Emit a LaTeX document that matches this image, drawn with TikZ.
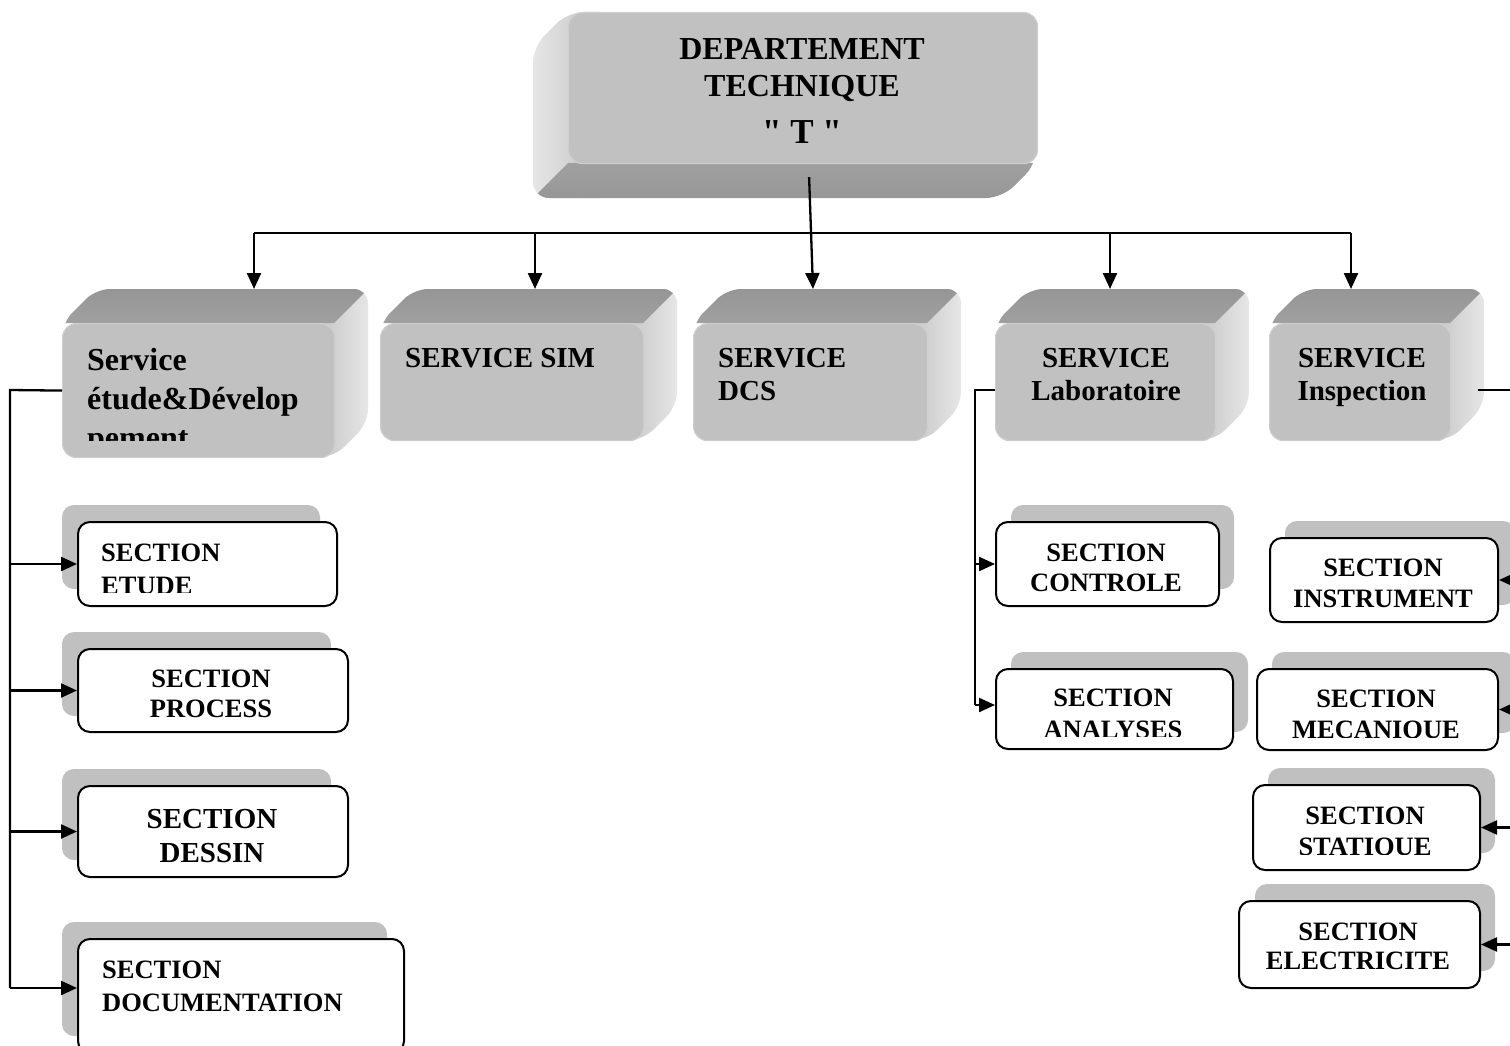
\documentclass[tikz,border=0pt]{standalone}
\usepackage{fontspec}
\setmainfont{Liberation Serif}
\newfontfamily\plainserif{Liberation Serif}
\usetikzlibrary{arrows.meta}

\definecolor{face}{RGB}{193,193,193}
\definecolor{faceRim}{RGB}{206,206,206}
\definecolor{topD}{RGB}{142,142,142}
\definecolor{topL}{RGB}{160,160,160}
\definecolor{sideD}{RGB}{196,196,196}
\definecolor{sideL}{RGB}{234,234,234}
\definecolor{shadowgray}{RGB}{192,192,192}

\tikzset{
  conn/.style={line width=2.3pt},
  arr/.style={conn,-{Triangle[length=16pt,width=14pt]}},
  svcface/.style={fill=face, draw=faceRim, line width=1.2pt, rounded corners=14pt, inner sep=0pt},
  secbox/.style={draw=black, line width=2pt, fill=white, rounded corners=12pt, inner sep=0pt},
  secshadow/.style={fill=shadowgray, rounded corners=12pt},
  txt/.style={inner sep=0pt, font=\bfseries\fontsize{26.5}{31}\selectfont},
  svctxt/.style={inner sep=0pt, font=\bfseries\fontsize{29}{33}\selectfont},
}

% bevelled service block: front face (#2,#3)-(#4,#5), extruded up and to the right
\newcommand\svcbox[5]{%
  \begin{scope}
    \clip[rounded corners=14pt] (#2,#5) -- (#2,#3) -- (#2+34,#3-34) -- (#4+34,#3-34)
      -- (#4+34,#5-34) -- (#4,#5) -- cycle;
    \shade[left color=sideD, right color=sideL] (#4-20,#3-40) rectangle (#4+40,#5+5);
    \shade[top color=topD, bottom color=topL] (#2-10,#3) -- (#4,#3) -- (#4+60,#3-60)
      -- (#2-10,#3-60) -- cycle;
  \end{scope}
  \node[svcface, anchor=north west, minimum width={#4-#2}, minimum height={#5-#3}] (#1) at (#2,#3) {};
  \coordinate (#1-top) at (#2,#3-34);
}

\begin{document}
\begin{tikzpicture}[x=1pt,y=-1pt]
\useasboundingbox (0,0) rectangle (1510,1046);
\clip (0,0) rectangle (1510,1046);

% ---------- head block, extruded down and to the left ----------
\begin{scope}
  \clip[rounded corners=16pt] (568,12) -- (1037,12) -- (1037,163) -- (1002,198)
    -- (533,198) -- (533,47) -- cycle;
  \shade[left color=sideL, right color=sideD] (525,0) rectangle (600,210);
  \shade[top color=topL, bottom color=topD] (568,163) -- (1050,163) -- (1050,230) -- (501,230) -- cycle;
\end{scope}
\node[svcface, anchor=north west, minimum width=469, minimum height=151] (dept) at (568,12) {};
% multi-line nodes: the base anchor sits on the last line
\node[inner sep=0pt, align=center, anchor=base, font=\bfseries\fontsize{32}{37}\selectfont]
  (deptText) at (802,143) {DEPARTEMENT\\TECHNIQUE\\[10pt]{\plainserif\bfseries\fontsize{35}{37}\selectfont" T "}};

% ---------- services ----------
\svcbox{sEtude}{62}{323}{334}{457}
\svcbox{sSim}{380}{323}{643}{440}
\svcbox{sDcs}{693}{323}{927}{440}
\svcbox{sLab}{995}{323}{1215}{440}
\svcbox{sInsp}{1269}{323}{1450}{440}

\begin{scope}
  \clip (60,330) rectangle (340,440);
  \node[inner sep=0pt, align=left, anchor=base west, font=\bfseries\fontsize{32}{39}\selectfont]
    (tEtude) at (87,448) {Service\\étude\&Dévelop\\pement};
\end{scope}
\node[svctxt, anchor=base west] (tSim) at (405,367) {SERVICE SIM};
\node[svctxt, anchor=base west, align=left] (tDcs) at (718,400) {SERVICE\\DCS};
\node[svctxt, anchor=base, align=center] (tLab) at (1106,400) {SERVICE\\Laboratoire};
\node[svctxt, anchor=base, align=center] (tInsp) at (1362,400) {SERVICE\\Inspection};

% ---------- left sections ----------
\fill[secshadow] (62,505) rectangle (320,589);
\node[secbox, anchor=north west, minimum width=259, minimum height=84] (secEtude) at (77,521) {};
\fill[secshadow] (62,632) rectangle (331,716);
\node[secbox, anchor=north west, minimum width=270, minimum height=83] (secProcess) at (77,648) {};
\fill[secshadow] (62,769) rectangle (331,860);
\node[secbox, anchor=north west, minimum width=270, minimum height=91] (secDessin) at (77,785) {};
\fill[secshadow] (62,922) rectangle (387,1036);
\node[secbox, anchor=north west, minimum width=326, minimum height=114] (secDoc) at (77,938) {};

\begin{scope}
  \clip (77,521) rectangle (336,592);
  \node[txt, anchor=base west, align=left, font=\bfseries\fontsize{26.5}{33}\selectfont]
    (tEtudeSec) at (101,594) {SECTION\\ETUDE};
\end{scope}
\node[txt, anchor=base, align=center, font=\bfseries\fontsize{26.5}{30}\selectfont]
  (tProcess) at (211,717) {SECTION\\PROCESS};
\node[txt, anchor=base, align=center, font=\bfseries\fontsize{29}{34}\selectfont]
  (tDessin) at (212,862) {SECTION\\DESSIN};
\node[txt, anchor=base west, align=left, font=\bfseries\fontsize{26.5}{33}\selectfont]
  (tDoc) at (102,1011) {SECTION\\DOCUMENTATION};

% ---------- laboratory sections ----------
\fill[secshadow] (1011,505) rectangle (1234,589);
\node[secbox, anchor=north west, minimum width=223, minimum height=84] (secControle) at (995,521) {};
\fill[secshadow] (1011,652) rectangle (1248,732);
\node[secbox, anchor=north west, minimum width=237, minimum height=80] (secAnalyses) at (995,668) {};

\node[txt, anchor=base, align=center, font=\bfseries\fontsize{26.5}{30}\selectfont]
  (tControle) at (1106,591) {SECTION\\CONTROLE};
\begin{scope}
  \clip (995,668) rectangle (1232,736.5);
  \node[txt, anchor=base, align=center, font=\bfseries\fontsize{26.5}{32}\selectfont]
    (tAnalyses) at (1113,738) {SECTION\\ANALYSES};
\end{scope}

% ---------- inspection sections ----------
\fill[secshadow] (1285,521) rectangle (1515,605);
\node[secbox, anchor=north west, minimum width=228, minimum height=84] (secInstr) at (1269,537) {};
\fill[secshadow] (1272,652) rectangle (1515,733);
\node[secbox, anchor=north west, minimum width=241, minimum height=81] (secMeca) at (1256,668) {};
\fill[secshadow] (1268,768) rectangle (1495,853);
\node[secbox, anchor=north west, minimum width=227, minimum height=85] (secStat) at (1252,784) {};
\fill[secshadow] (1255,884) rectangle (1495,971);
\node[secbox, anchor=north west, minimum width=241, minimum height=87] (secElec) at (1238,900) {};

\node[txt, anchor=base, align=center] (tInstr) at (1383,607) {SECTION\\INSTRUMENT};
\begin{scope}
  \clip (1256,668) rectangle (1497,737);
  \node[txt, anchor=base, align=center] (tMeca) at (1376,738) {SECTION\\MECANIQUE};
\end{scope}
\begin{scope}
  \clip (1252,784) rectangle (1479,854.5);
  \node[txt, anchor=base, align=center] (tStat) at (1365,855) {SECTION\\STATIQUE};
\end{scope}
\node[txt, anchor=base, align=center, font=\bfseries\fontsize{26.5}{29}\selectfont]
  (tElec) at (1358,969) {SECTION\\ELECTRICITE};

% ---------- connectors from the head ----------
\coordinate (busA) at (254,233);
\coordinate (busB) at (535,233);
\coordinate (busD) at (1110,233);
\coordinate (busE) at (1351,233);
\coordinate (dcsIn) at (813,289);
\draw[conn] (busA) -- (busE);
\draw[arr] ([xshift=6pt,yshift=-13pt]dept.south) -- (dcsIn);
\draw[arr] (busA) -- (busA |- sEtude-top);
\draw[arr] (busB) -- (busB |- sSim-top);
\draw[arr] (busD) -- (busD |- sLab-top);
\draw[arr] (busE) -- (busE |- sInsp-top);

% ---------- study & development branch ----------
\coordinate (lTop) at (10,390);
\coordinate (lBot) at (10,988);
\draw[conn] (sEtude.west) -- (lTop) -- (lBot);
\draw[arr] (lTop |- secEtude.west) -- (secEtude.west);
\draw[arr] (lTop |- secProcess.west) -- (secProcess.west);
\draw[arr] (lTop |- secDessin.west) -- (secDessin.west);
\draw[arr] (lBot) -- (lBot -| secDoc.west);

% ---------- laboratory branch ----------
\coordinate (labTop) at (975,390);
\coordinate (labBot) at (975,705);
\draw[conn] (sLab.west |- labTop) -- (labTop) -- (labBot);
\draw[arr] (labTop |- secControle.west) -- (secControle.west);
\draw[arr] (labBot) -- (labBot -| secAnalyses.west);

% ---------- inspection branch ----------
\coordinate (inspOut) at (1478,390);
\coordinate (rTop) at (1540,390);
\coordinate (rBot) at (1540,940);
\draw[conn] (inspOut) -- (rTop) -- (rBot);
\draw[arr] (rTop |- secInstr.east) -- (secInstr.east);
\draw[arr] (rTop |- secMeca.east) -- (secMeca.east);
\draw[arr] (rTop |- secStat.east) -- (secStat.east);
\draw[arr] (rTop |- secElec.east) -- (secElec.east);
\end{tikzpicture}
\end{document}
